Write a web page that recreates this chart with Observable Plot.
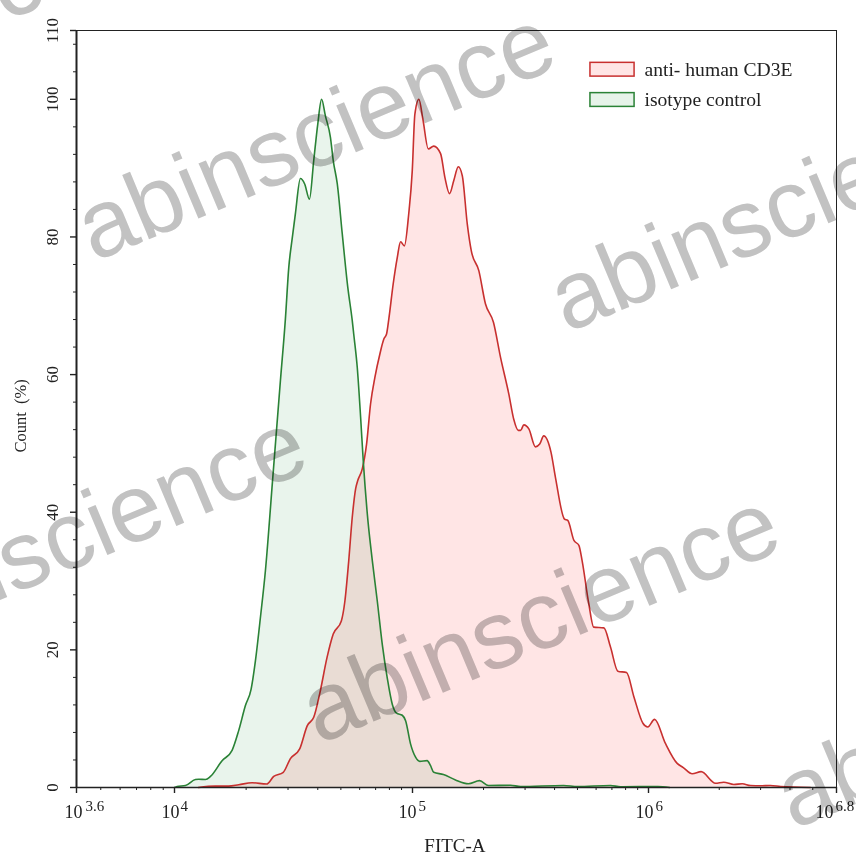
<!DOCTYPE html>
<html>
<head>
<meta charset="utf-8">
<script src="https://cdn.jsdelivr.net/npm/d3@7"></script>
<script src="https://cdn.jsdelivr.net/npm/@observablehq/plot@0.6"></script>
<style>html,body{margin:0;padding:0;background:#fff}</style>
</head>
<body>
<div id="chart"></div>
<script>
const isoX = [4.0,4.011,4.046,4.088,4.102,4.130,4.151,4.200,4.242,4.270,4.298,4.322,4.340,4.361,4.382,4.412,4.445,4.466,4.480,4.495,4.508,4.529,4.547,4.567,4.585,4.602,4.618,4.634,4.655,4.667,4.684,4.705,4.728,4.747,4.753,4.768,4.782,4.793,4.810,4.831,4.852,4.873,4.894,4.915,4.933,4.957,4.971,4.992,5.013,5.031,5.062,5.076,5.090,5.131,5.182,5.237,5.284,5.322,5.415,5.458,5.640,5.699,5.839,5.881,6.04,6.09];
const isoY = [0,0.15,0.29,1.16,1.2,1.16,1.6,3.9,5.4,8.3,11.9,14.3,18.4,24.7,31.5,44.6,59.1,68.1,75.5,79.9,83.4,88.5,87.7,85.5,91.1,96.4,100,97.6,94.5,91.1,87.7,80.4,72.7,67.8,65.9,61.0,53.8,47.5,39.8,33.0,27.1,20.8,15.9,12.1,10.8,10.5,9.7,6.3,4.4,3.8,3.9,3.2,2.2,1.9,1.1,0.55,1.0,0.3,0.33,0.15,0.3,0.15,0.3,0.1,0.15,0];
const cd3X = [4.1,4.172,4.227,4.270,4.326,4.387,4.417,4.457,4.487,4.526,4.558,4.585,4.610,4.641,4.667,4.701,4.716,4.732,4.747,4.761,4.770,4.789,4.807,4.824,4.842,4.863,4.880,4.891,4.901,4.919,4.936,4.950,4.966,4.984,4.999,5.010,5.027,5.044,5.067,5.090,5.119,5.137,5.157,5.175,5.194,5.211,5.232,5.249,5.281,5.309,5.343,5.373,5.408,5.429,5.448,5.458,5.472,5.493,5.521,5.539,5.556,5.587,5.606,5.644,5.658,5.684,5.705,5.719,5.747,5.768,5.811,5.839,5.870,5.907,5.938,5.977,5.997,6.026,6.072,6.122,6.148,6.186,6.224,6.285,6.320,6.363,6.399,6.434,6.477,6.519,6.562,6.689];
const cd3Y = [0,0.2,0.2,0.4,0.7,0.5,1.6,2.2,4.2,5.6,9.0,10.2,13.6,18.9,22.3,24.2,27.1,32.9,39.3,43.4,44.6,46.3,49.9,55.8,59.6,63.0,65.2,65.9,68.2,73.2,77.0,79.3,78.7,83.3,89.6,97.8,100,97.1,92.8,93.2,92.1,88.7,86.3,88.2,90.2,88.9,81.9,78.0,75.1,70.3,67.6,62.5,57.2,53.5,51.9,51.9,52.7,52.1,49.5,49.9,51.1,48.7,45.0,39.0,38.8,35.9,35.2,32.9,26.7,23.3,23.2,20.4,16.9,16.7,13.2,9.3,8.8,9.9,6.4,3.5,2.9,2.0,2.3,0.62,0.77,0.44,0.54,0.29,0.25,0.29,0.15,0];

const xMajor = [3.6,4,5,6,6.8];
const xExponents = ["3.6","4","5","6","6.8"];
const tenDx = [-3,-4,-5,-4,-12];
const expDx = [9,6,6,7,-1];
const xMinor = [3.699,3.778,3.845,3.903,3.954,4.301,4.477,4.602,4.699,4.778,4.845,4.903,4.954,5.301,5.477,5.602,5.699,5.778,5.845,5.903,5.954,6.301,6.477,6.602,6.699];
const yMajor = [0,20,40,60,80,100,110];
const yMinor = [4,8,12,16,24,28,32,36,44,48,52,56,64,68,72,76,84,88,92,96,104,108];

const legendLabels = ["anti- human CD3E","isotype control"];
const legendTop = [105.3,100.9];
const legendBottom = [103.3,98.9];
const legendMid = [104.3,99.9];
const colors = ["#c8302f","#2a8236"];
const fills = ["#ff0000","#0a8a2a"];

const wmX = [2.686,4.594,6.596,3.563,5.542,7.56];
const wmY = [106.8,94.7,84.4,36.2,24.6,12.2];
const wmText = "abinscience";

const pts = (xs,ys)=>xs.map((x,i)=>({x,y:ys[i]}));
const iso = pts(isoX,isoY), cd3 = pts(cd3X,cd3Y);
const serif = "'Liberation Serif','Times New Roman',serif";
const ink = "#222";

const plot = Plot.plot({
  width:856, height:861,
  marginLeft:76, marginRight:20, marginTop:30, marginBottom:74,
  style:{fontFamily:serif, background:"#fff"},
  x:{type:"linear", domain:[3.6,4,5,6,6.8], range:[76,174,412,648,836]},
  y:{domain:[0,110], range:[787,30]},
  marks:[
    Plot.areaY(cd3,{x:"x",y:"y",fill:fills[0],fillOpacity:0.1,curve:"monotone-x"}),
    Plot.areaY(iso,{x:"x",y:"y",fill:fills[1],fillOpacity:0.09,curve:"monotone-x"}),
    Plot.lineY(cd3,{x:"x",y:"y",stroke:colors[0],strokeWidth:1.6,curve:"monotone-x"}),
    Plot.lineY(iso,{x:"x",y:"y",stroke:colors[1],strokeWidth:1.6,curve:"monotone-x"}),
    Plot.ruleX([3.6],{stroke:ink,strokeWidth:2}),
    Plot.ruleX([6.8],{stroke:ink,strokeWidth:1}),
    Plot.ruleY([110],{stroke:ink,strokeWidth:1}),
    Plot.ruleY([0],{stroke:ink,strokeWidth:1.5}),
    Plot.axisX({ticks:xMajor,tickSize:6,tickFormat:()=>"",stroke:ink,strokeWidth:1.4,label:null}),
    Plot.axisX({ticks:xMinor,tickSize:3,tickFormat:()=>"",stroke:ink,label:null}),
    ...xMajor.map((v,i)=>Plot.text([v],{x:d=>d,y:0,text:()=>"10",dy:25,dx:tenDx[i],fontSize:18,fill:ink,fontFamily:serif})),
    ...xMajor.map((v,i)=>Plot.text([v],{x:d=>d,y:0,text:()=>xExponents[i],dy:19,dx:expDx[i],textAnchor:"start",fontSize:15,fill:ink,fontFamily:serif})),
    Plot.axisY({ticks:yMajor,tickSize:6,tickRotate:-90,tickPadding:13,fontSize:17,fill:ink,stroke:ink,strokeWidth:1.4,label:null,tickFormat:d=>String(d),fontFamily:serif,textAnchor:"middle"}),
    Plot.axisY({ticks:yMinor,tickSize:3,tickFormat:()=>"",stroke:ink,label:null}),
    Plot.text(["FITC-A"],{x:[5.18],y:[0],dy:58,fontSize:19,fill:ink,fontFamily:serif}),
    Plot.text(["Count  (%)"],{x:[3.6],y:[54],dx:-56,rotate:-90,fontSize:16.5,fill:ink,fontFamily:serif}),
    Plot.rect(legendLabels,{x1:5.754,x2:5.941,y1:(d,i)=>legendBottom[i],y2:(d,i)=>legendTop[i],fill:(d,i)=>fills[i],fillOpacity:0.1}),
    Plot.rect(legendLabels,{x1:5.754,x2:5.941,y1:(d,i)=>legendBottom[i],y2:(d,i)=>legendTop[i],stroke:(d,i)=>colors[i],strokeWidth:1.5,fill:"none"}),
    Plot.text(legendLabels,{x:5.983,y:(d,i)=>legendMid[i],text:d=>d,textAnchor:"start",fontSize:19.6,fill:ink,fontFamily:serif}),
    Plot.text(wmX,{x:d=>d,y:(d,i)=>wmY[i],text:()=>wmText,rotate:-22.8,fontSize:96,fontFamily:"'Liberation Sans',Arial,sans-serif",fill:"#c2c2c2",mixBlendMode:"multiply"})
  ]
});
document.getElementById("chart").appendChild(plot);
</script>
</body>
</html>
